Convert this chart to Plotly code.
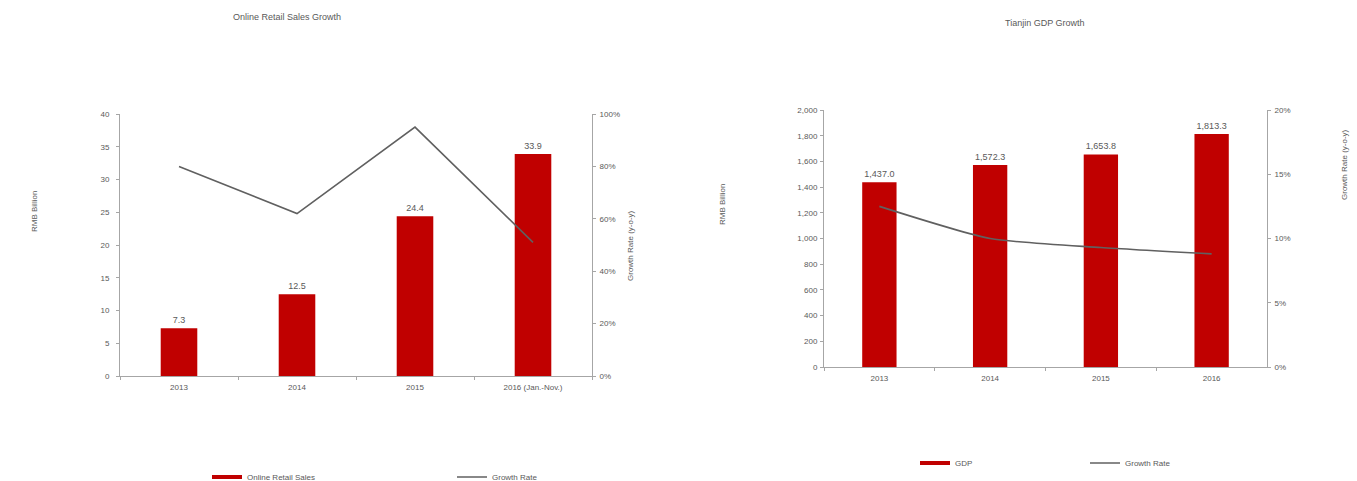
import plotly.graph_objects as go

W, H = 1357, 481

# Online retail sales (RMB billion) and year-on-year growth
retail_years = ["2013", "2014", "2015", "2016 (Jan.-Nov.)"]
retail_sales = [7.3, 12.5, 24.4, 33.9]
retail_growth = [0.80, 0.62, 0.95, 0.51]

# Tianjin GDP (RMB billion) and year-on-year growth
gdp_years = ["2013", "2014", "2015", "2016"]
gdp_values = [1437.0, 1572.3, 1653.8, 1813.3]
gdp_growth = [0.125, 0.100, 0.093, 0.088]

BAR_RED = "#C00000"
LINE_GREY = "#606060"
AXIS_GREY = "#A6A6A6"
TEXT_GREY = "#595959"
FONT = "Arial"


def px_x(p):
    return p / W


def px_y(p):
    return 1 - p / H


fig = go.Figure()

# ---- left panel: online retail sales ----
fig.add_trace(go.Bar(
    x=retail_years, y=retail_sales, xaxis="x", yaxis="y",
    marker=dict(color=BAR_RED, line=dict(width=0)), width=0.31,
    text=retail_sales, texttemplate="%{y:.1f}", textposition="outside",
    textfont=dict(size=9, color=TEXT_GREY), cliponaxis=False, showlegend=False,
))
fig.add_trace(go.Scatter(
    x=retail_years, y=retail_growth, xaxis="x", yaxis="y2", mode="lines",
    line=dict(color=LINE_GREY, width=1.6), name="Growth Rate", legend="legend2",
))
fig.add_trace(go.Scatter(
    x=[None], y=[None], xaxis="x", yaxis="y", mode="lines",
    line=dict(color=BAR_RED, width=4), name="Online Retail Sales", legend="legend",
))

# ---- right panel: Tianjin GDP ----
fig.add_trace(go.Bar(
    x=gdp_years, y=gdp_values, xaxis="x2", yaxis="y3",
    marker=dict(color=BAR_RED, line=dict(width=0)), width=0.31,
    text=gdp_values, texttemplate="%{y:,.1f}", textposition="outside",
    textfont=dict(size=9, color=TEXT_GREY), cliponaxis=False, showlegend=False,
))
fig.add_trace(go.Scatter(
    x=gdp_years, y=gdp_growth, xaxis="x2", yaxis="y4", mode="lines",
    line=dict(color=LINE_GREY, width=1.6, shape="spline", smoothing=0.6),
    name="Growth Rate", legend="legend4",
))
fig.add_trace(go.Scatter(
    x=[None], y=[None], xaxis="x2", yaxis="y3", mode="lines",
    line=dict(color=BAR_RED, width=4), name="GDP", legend="legend3",
))

tickfont = dict(size=8, color=TEXT_GREY, family=FONT)
common_y = dict(showgrid=False, zeroline=False, showline=True, linecolor=AXIS_GREY,
                linewidth=1, ticks="outside", ticklen=3, tickcolor=AXIS_GREY,
                tickfont=tickfont, fixedrange=True)
common_x = dict(showgrid=False, zeroline=False, showline=True, linecolor=AXIS_GREY,
                linewidth=1, ticks="outside", ticklen=3, tickcolor=AXIS_GREY,
                tickson="boundaries", tickfont=tickfont, range=[-0.5, 3.5],
                type="category", fixedrange=True, ticklabelstandoff=3)

left_dom_x = [px_x(120), px_x(592)]
left_dom_y = [px_y(376), px_y(114)]
right_dom_x = [px_x(824), px_x(1267)]
right_dom_y = [px_y(367), px_y(110)]


def legend_at(xp, yp):
    return dict(x=px_x(xp), y=px_y(yp), xanchor="left", yanchor="middle",
                orientation="h", bgcolor="rgba(0,0,0,0)", borderwidth=0,
                font=dict(size=8, color=TEXT_GREY, family=FONT), itemwidth=30)


fig.update_layout(
    width=W, height=H, autosize=False,
    margin=dict(l=0, r=0, t=0, b=0, autoexpand=False),
    paper_bgcolor="white", plot_bgcolor="white",
    font=dict(family=FONT, size=9, color=TEXT_GREY),
    xaxis=dict(domain=left_dom_x, anchor="y", **common_x),
    yaxis=dict(domain=left_dom_y, anchor="x", range=[0, 40], dtick=5,
               ticklabelstandoff=5, **common_y),
    yaxis2=dict(overlaying="y", side="right", anchor="x", range=[0, 1], dtick=0.2,
                tickformat=".0%", ticklabelstandoff=2, **common_y),
    xaxis2=dict(domain=right_dom_x, anchor="y3", **common_x),
    yaxis3=dict(domain=right_dom_y, anchor="x2", range=[0, 2000], dtick=200,
                tickformat=",", ticklabelstandoff=1, **common_y),
    yaxis4=dict(overlaying="y3", side="right", anchor="x2", range=[0, 0.2], dtick=0.05,
                tickformat=".0%", ticklabelstandoff=2, **common_y),
    legend=legend_at(207, 477),
    legend2=legend_at(452, 477),
    legend3=legend_at(915, 463),
    legend4=legend_at(1085, 463),
    bargap=0.69,
)

annot_font = dict(size=9, color=TEXT_GREY, family=FONT)


def label(text, xp, yp, angle=0, size=9):
    fig.add_annotation(text=text, x=px_x(xp), y=px_y(yp), textangle=angle,
                       xref="paper", yref="paper", xanchor="center", yanchor="middle",
                       showarrow=False, font=dict(annot_font, size=size))


label("Online Retail Sales Growth", 287, 17)
label("Tianjin GDP Growth", 1045, 23)
label("RMB Billion", 34, 212, -90, 8)
label("Growth Rate (y-o-y)", 630, 246, -90, 8)
label("RMB Billion", 723, 205, -90, 8)
label("Growth Rate (y-o-y)", 1345, 165, -90, 8)

fig.write_html("out.html", config={"displayModeBar": False})
